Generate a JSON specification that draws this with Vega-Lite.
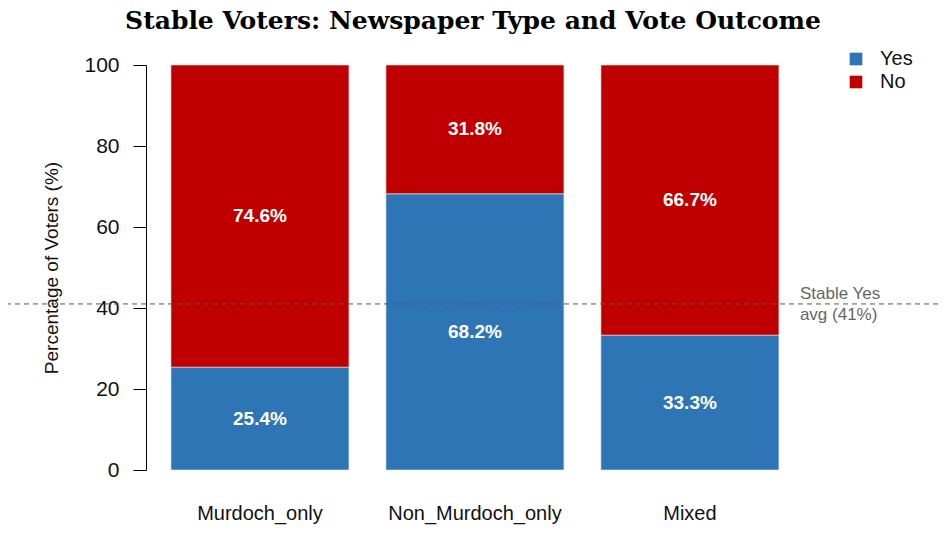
{
  "$schema": "https://vega.github.io/schema/vega-lite/v6.json",
  "width": 930,
  "height": 405,
  "autosize": {"type": "none"},
  "padding": {"left": 8, "top": 65, "right": 6, "bottom": 63},
  "background": "white",
  "title": {
    "text": "Stable Voters: Newspaper Type and Vote Outcome",
    "font": "DejaVu Serif",
    "fontSize": 25,
    "fontWeight": "bold",
    "color": "#000000",
    "anchor": "middle",
    "frame": "group",
    "offset": 15
  },
  "datasets": {
    "votes": [
      {"newspaper": "Murdoch_only", "vote": "Yes", "pct": 25.4},
      {"newspaper": "Murdoch_only", "vote": "No", "pct": 74.6},
      {"newspaper": "Non_Murdoch_only", "vote": "Yes", "pct": 68.2},
      {"newspaper": "Non_Murdoch_only", "vote": "No", "pct": 31.8},
      {"newspaper": "Mixed", "vote": "Yes", "pct": 33.3},
      {"newspaper": "Mixed", "vote": "No", "pct": 66.7}
    ],
    "average": [
      {"newspaper": "Mixed", "avg": 41, "note": "Stable Yes\navg (41%)"}
    ]
  },
  "data": {"name": "votes"},
  "config": {
    "view": {"stroke": null},
    "font": "Liberation Sans"
  },
  "layer": [
    {
      "mark": {"type": "bar", "stroke": "#e8e8e8", "strokeWidth": 1, "strokeOpacity": 0.6},
      "encoding": {
        "x": {
          "field": "newspaper",
          "type": "nominal",
          "sort": ["Murdoch_only", "Non_Murdoch_only", "Mixed"],
          "scale": {"domain": ["Murdoch_only", "Non_Murdoch_only", "Mixed"], "paddingInner": 0.172, "paddingOuter": 0.749, "align": 0.506},
          "axis": {
            "title": null,
            "labelAngle": 0,
            "domain": false,
            "ticks": false,
            "labelFontSize": 20,
            "labelColor": "#111111",
            "labelPadding": 33
          }
        },
        "y": {
          "field": "pct",
          "type": "quantitative",
          "stack": "zero",
          "scale": {"domain": [0, 100], "nice": false},
          "axis": {
            "title": "Percentage of Voters (%)",
            "titleFontSize": 19,
            "titleFontWeight": "normal",
            "titleColor": "#111111",
            "titlePadding": 22,
            "values": [0, 20, 40, 60, 80, 100],
            "grid": false,
            "offset": -138,
            "domainColor": "#000000",
            "tickColor": "#000000",
            "tickSize": 13,
            "labelFontSize": 21,
            "labelColor": "#111111",
            "labelPadding": 14
          }
        },
        "color": {
          "field": "vote",
          "type": "nominal",
          "sort": ["Yes", "No"],
          "scale": {"domain": ["Yes", "No"], "range": ["#2E75B6", "#C00000"]},
          "legend": {
            "title": null,
            "orient": "none",
            "legendX": 838,
            "legendY": -16,
            "symbolType": "square",
            "symbolSize": 160,
            "symbolStrokeWidth": 0,
            "labelFontSize": 20,
            "labelColor": "#111111",
            "labelOffset": 14,
            "rowPadding": 3
          }
        },
        "order": {"field": "vote", "sort": "descending"}
      }
    },
    {
      "transform": [
        {"stack": "pct", "groupby": ["newspaper"], "sort": [{"field": "vote", "order": "descending"}], "as": ["y0", "y1"]},
        {"calculate": "(datum.y0 + datum.y1) / 2", "as": "mid"},
        {"calculate": "format(datum.pct, '.1f') + '%'", "as": "label"}
      ],
      "mark": {"type": "text", "color": "white", "fontWeight": "bold", "fontSize": 19, "baseline": "middle"},
      "encoding": {
        "x": {"field": "newspaper", "type": "nominal", "sort": ["Murdoch_only", "Non_Murdoch_only", "Mixed"]},
        "y": {"field": "mid", "type": "quantitative"},
        "text": {"field": "label"}
      }
    },
    {
      "data": {"name": "average"},
      "mark": {"type": "rule", "color": "#555555", "strokeWidth": 1, "strokeDash": [5, 4]},
      "encoding": {"y": {"field": "avg", "type": "quantitative"}}
    },
    {
      "data": {"name": "average"},
      "mark": {"type": "text", "align": "left", "baseline": "middle", "fontSize": 17, "fontWeight": "normal", "color": "#666666", "lineBreak": "\n", "lineHeight": 21, "dx": 21, "dy": -10},
      "encoding": {
        "x": {"field": "newspaper", "type": "nominal", "sort": ["Murdoch_only", "Non_Murdoch_only", "Mixed"], "bandPosition": 1},
        "y": {"field": "avg", "type": "quantitative"},
        "text": {"field": "note"}
      }
    }
  ]
}
